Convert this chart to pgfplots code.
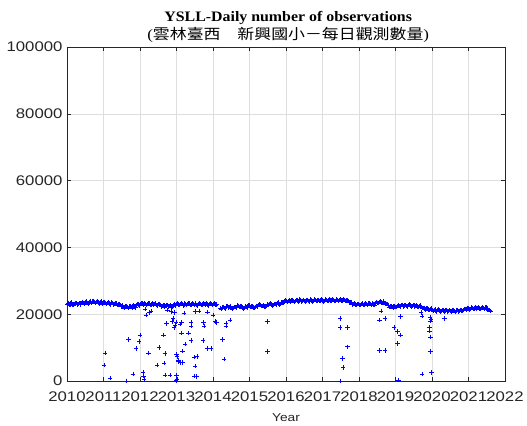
\documentclass[border=0pt]{standalone}
\usepackage{pgfplots}
\pgfplotsset{compat=1.18}
\usepackage{pgfplotstable}
\usepackage{fontspec}
\setmainfont{Liberation Sans}
\newfontfamily\tickfont{Liberation Sans}[FakeStretch=1.2]
\newfontfamily\titlefont{Liberation Serif}[FakeStretch=1.1]
\newfontfamily\parenfont{Liberation Serif}[FakeStretch=1.17]
\newfontfamily\cjkfont{Noto Sans CJK TC}[FakeStretch=1.17]
\definecolor{axgray}{rgb}{0.15,0.15,0.15}
\definecolor{gridgray}{rgb}{0.87,0.87,0.87}

\pgfplotstableread{
x y
2010.00 23100
2010.05 22800
2010.10 23200
2010.15 22900
2010.20 23100
2010.25 23300
2010.30 23000
2010.35 23200
2010.40 23400
2010.45 23300
2010.50 23500
2010.55 23400
2010.60 23700
2010.65 23600
2010.70 23800
2010.75 23600
2010.80 23700
2010.85 23500
2010.90 23600
2010.95 23400
2011.00 23500
2011.05 23300
2011.10 23400
2011.15 23200
2011.20 23400
2011.25 23300
2011.30 23100
2011.35 23200
2011.40 22900
2011.45 22700
2011.50 22400
2011.55 22200
2011.60 22300
2011.65 22100
2011.70 22300
2011.75 22200
2011.80 22400
2011.85 22300
2011.90 22600
2011.95 22900
2012.00 23000
2012.05 23200
2012.10 22900
2012.15 23100
2012.20 23000
2012.25 23200
2012.30 22900
2012.35 23100
2012.40 23000
2012.45 22800
2012.50 23000
2012.55 22700
2012.60 22500
2012.65 22600
2012.70 22400
2012.75 22700
2012.80 22500
2012.85 22300
2012.90 22600
2012.95 22800
2013.00 23000
2013.05 22900
2013.10 23100
2013.15 23000
2013.20 22800
2013.25 23100
2013.30 23000
2013.35 23200
2013.40 22900
2013.45 23100
2013.50 23000
2013.55 22800
2013.60 23000
2013.65 23100
2013.70 22900
2013.75 23000
2013.80 23100
2013.85 22900
2013.90 23000
2013.95 23100
2014.00 23000
2014.05 22900
2014.10 23000
2014.20 21800
2014.25 22000
2014.30 21800
2014.35 22200
2014.40 22400
2014.45 22200
2014.50 21900
2014.55 21800
2014.60 22100
2014.65 22400
2014.70 22500
2014.75 22300
2014.80 22000
2014.85 21900
2014.90 22200
2014.95 22500
2015.00 22600
2015.05 22300
2015.10 22000
2015.15 22100
2015.20 22400
2015.25 22700
2015.30 22800
2015.35 22500
2015.40 22300
2015.45 22500
2015.50 22800
2015.55 23000
2015.60 22900
2015.65 22700
2015.70 23000
2015.75 23300
2015.80 23200
2015.85 23000
2015.90 23700
2015.95 23800
2016.00 23900
2016.05 24000
2016.10 23900
2016.15 24100
2016.20 24000
2016.25 23900
2016.30 24100
2016.35 24000
2016.40 24200
2016.45 24000
2016.50 23900
2016.55 24100
2016.60 24000
2016.65 24200
2016.70 24100
2016.75 24000
2016.80 24200
2016.85 24100
2016.90 24000
2016.95 24200
2017.00 24100
2017.05 24000
2017.10 24200
2017.15 24100
2017.20 24300
2017.25 24100
2017.30 24200
2017.35 24000
2017.40 24300
2017.45 24200
2017.50 24300
2017.55 24100
2017.60 24300
2017.65 24100
2017.70 23900
2017.75 23600
2017.80 23300
2017.85 23000
2017.90 22900
2017.95 23100
2018.00 22800
2018.05 23000
2018.10 23100
2018.15 22900
2018.20 23000
2018.25 23200
2018.30 23000
2018.35 23100
2018.40 22900
2018.45 23200
2018.50 23400
2018.55 23600
2018.60 23500
2018.65 23700
2018.70 23400
2018.75 23100
2018.80 22600
2018.85 22300
2018.90 22100
2018.95 22300
2019.00 22200
2019.05 22500
2019.10 22400
2019.15 22700
2019.20 22500
2019.25 22600
2019.30 22400
2019.35 22700
2019.40 22600
2019.45 22400
2019.50 22600
2019.55 22500
2019.60 22300
2019.65 22500
2019.70 22200
2019.75 21800
2019.80 21600
2019.85 21700
2019.90 21400
2019.95 21600
2020.00 21300
2020.05 21200
2020.10 21000
2020.15 21200
2020.20 21100
2020.25 20900
2020.30 21100
2020.35 21000
2020.40 21200
2020.45 20900
2020.50 21000
2020.55 21100
2020.60 20900
2020.65 21000
2020.70 21200
2020.75 21000
2020.80 21100
2020.85 21300
2020.90 21500
2020.95 21600
2021.00 21700
2021.05 21600
2021.10 21800
2021.15 21700
2021.20 21900
2021.25 21800
2021.30 21700
2021.35 21900
2021.40 21800
2021.45 22000
2021.50 21700
2021.55 21300
2021.60 21000
}\bandtable

\pgfplotstableread{
x y
2010.025 23400
2010.075 22700
2010.125 23500
2010.175 22800
2010.225 23400
2010.275 22900
2010.325 23400
2010.375 22900
2010.425 23700
2010.475 23000
2010.525 23800
2010.575 23100
2010.625 24000
2010.675 23300
2010.725 24000
2010.775 23300
2010.825 23900
2010.875 23200
2010.925 23800
2010.975 23100
2011.025 23700
2011.075 23000
2011.125 23600
2011.175 22900
2011.225 23600
2011.275 22900
2011.325 23400
2011.375 22700
2011.425 23100
2011.475 22300
2011.525 22600
2011.575 21900
2011.625 22500
2011.675 21800
2011.725 22500
2011.775 21900
2011.825 22600
2011.875 22000
2011.925 23000
2011.975 22600
2012.025 23400
2012.075 22700
2012.125 23300
2012.175 22700
2012.225 23400
2012.275 22700
2012.325 23300
2012.375 22700
2012.425 23200
2012.475 22600
2012.525 23100
2012.575 22300
2012.625 22800
2012.675 22200
2012.725 22800
2012.775 22300
2012.825 22700
2012.875 22100
2012.925 22900
2012.975 22600
2013.025 23300
2013.075 22700
2013.125 23300
2013.175 22600
2013.225 23200
2013.275 22700
2013.325 23400
2013.375 22700
2013.425 23300
2013.475 22700
2013.525 23200
2013.575 22600
2013.625 23300
2013.675 22700
2013.725 23200
2013.775 22700
2013.825 23300
2013.875 22600
2013.925 23300
2013.975 22700
2014.025 23200
2014.075 22700
2014.225 21600
2014.275 22200
2014.325 21700
2014.375 22500
2014.425 22000
2014.475 22300
2014.525 21600
2014.575 22200
2014.625 22000
2014.675 22700
2014.725 22200
2014.775 22400
2014.825 21700
2014.875 22300
2014.925 22000
2014.975 22800
2015.025 22200
2015.075 22400
2015.125 21800
2015.175 22500
2015.225 22300
2015.275 23000
2015.325 22400
2015.375 22600
2015.425 22100
2015.475 22900
2015.525 22700
2015.575 23200
2015.625 22600
2015.675 23100
2015.725 22900
2015.775 23500
2015.825 22900
2015.875 23500
2015.925 23500
2015.975 24100
2016.025 23700
2016.075 24300
2016.125 23800
2016.175 24300
2016.225 23700
2016.275 24300
2016.325 23800
2016.375 24400
2016.425 23800
2016.475 24300
2016.525 23800
2016.575 24300
2016.625 23800
2016.675 24400
2016.725 23800
2016.775 24400
2016.825 23900
2016.875 24300
2016.925 23900
2016.975 24400
2017.025 23800
2017.075 24400
2017.125 23900
2017.175 24500
2017.225 23900
2017.275 24400
2017.325 23900
2017.375 24500
2017.425 24000
2017.475 24500
2017.525 24000
2017.575 24500
2017.625 24000
2017.675 24100
2017.725 23500
2017.775 23600
2017.825 22900
2017.875 23200
2017.925 22700
2017.975 23100
2018.025 22700
2018.075 23300
2018.125 22800
2018.175 23200
2018.225 22800
2018.275 23400
2018.325 22800
2018.375 23300
2018.425 22800
2018.475 23600
2018.525 23300
2018.575 23800
2018.625 23400
2018.675 23800
2018.725 23000
2018.775 23000
2018.825 22200
2018.875 22400
2018.925 21900
2018.975 22500
2019.025 22100
2019.075 22700
2019.125 22300
2019.175 22800
2019.225 22300
2019.275 22800
2019.325 22300
2019.375 22900
2019.425 22300
2019.475 22800
2019.525 22300
2019.575 22600
2019.625 22200
2019.675 22600
2019.725 21800
2019.775 21900
2019.825 21400
2019.875 21800
2019.925 21300
2019.975 21700
2020.025 21000
2020.075 21400
2020.125 20800
2020.175 21400
2020.225 20800
2020.275 21200
2020.325 20800
2020.375 21300
2020.425 20800
2020.475 21200
2020.525 20800
2020.575 21300
2020.625 20700
2020.675 21300
2020.725 20800
2020.775 21300
2020.825 20900
2020.875 21600
2020.925 21300
2020.975 21900
2021.025 21400
2021.075 22000
2021.125 21500
2021.175 22100
2021.225 21600
2021.275 22000
2021.325 21500
2021.375 22100
2021.425 21600
2021.475 22100
2021.525 21400
2021.575 21200
}\bandtableb

\pgfplotstableread{
x y
2011.04 8470
2011.01 4700
2011.18 900
2011.68 12480
2011.63 0
2011.80 2100
2012.00 13770
2011.98 11780
2011.89 9780
2012.10 1500
2012.11 600
2012.09 2600
2012.23 8470
2012.14 21470
2012.16 19760
2012.26 20500
2012.30 21000
2012.47 4790
2012.52 10080
2012.64 13770
2012.66 5300
2012.68 8290
2012.68 1800
2012.82 1800
2012.73 17270
2012.87 17760
2012.91 18770
2012.93 16000
2012.96 16800
2012.98 17600
2012.95 20500
2012.85 20800
2012.75 21200
2013.00 8000
2013.02 7300
2013.04 6200
2013.06 5800
2013.09 5500
2013.00 1800
2013.01 600
2012.98 200
2013.10 17000
2013.14 17500
2013.14 14280
2013.16 8900
2013.16 5500
2013.24 11000
2013.33 14280
2013.39 17500
2013.40 16500
2013.39 12080
2013.48 7100
2013.49 1500
2013.51 4490
2013.55 1300
2013.57 7290
2013.72 12080
2013.74 17500
2013.75 16500
2013.83 9780
2013.94 9780
2014.00 19760
2014.05 17760
2014.10 17500
2014.26 12480
2014.30 6500
2014.35 16500
2014.36 17200
2014.47 18260
2015.49 17760
2015.49 8780
2013.20 20300
2013.50 20800
2013.62 21000
2013.85 20600
2017.48 18770
2017.48 16070
2017.68 16070
2017.68 10270
2017.55 6790
2017.57 4000
2017.48 0
2018.56 18260
2018.71 18770
2018.56 9080
2018.71 9080
2018.96 16070
2019.05 14770
2019.14 13770
2019.05 11280
2019.14 19260
2019.08 300
2019.72 19460
2019.95 19000
2019.97 18500
2019.96 18000
2019.93 16000
2019.93 15000
2019.96 13260
2019.96 8780
2019.72 2100
2019.99 2500
2020.34 18770
2018.60 21000
2019.70 20500
}\outliertable

\begin{document}
\begin{tikzpicture}
\path[use as bounding box] (-67bp,-45bp) rectangle (460bp,381bp);
\begin{axis}[
  at={(0,0)}, anchor=south west,
  scale only axis,
  width=438bp, height=334bp,
  xmin=2010, xmax=2022,
  ymin=0, ymax=100000,
  xtick={2010,2011,...,2022},
  ytick={0,20000,40000,60000,80000,100000},
  scaled ticks=false,
  /pgf/number format/.cd, fixed, precision=0, 1000 sep={}, assume math mode=true,
  /pgfplots/.cd,
  tick label style={font=\tickfont\fontsize{14}{14}\selectfont, text=axgray},
  xticklabel style={yshift=-7bp},
  yticklabel style={xshift=-1bp},
  tick align=inside,
  major tick length=4.5bp,
  minor tick num=0,
  tick style={axgray, line width=0.5pt},
  axis line style={axgray, line width=0.5pt},
  grid=major,
  major grid style={gridgray, line width=0.5pt},
  xlabel={Year},
  xlabel style={font=\tickfont\fontsize{11.5}{12}\selectfont, text=axgray, at={(axis description cs:0.5,0)}, anchor=base, yshift=-40bp},
  clip=false,
]
\addplot[only marks, mark=+, mark size=2.2pt, blue, line width=0.45pt] table[x=x,y=y] {\bandtable};
\addplot[only marks, mark=+, mark size=2.2pt, blue, line width=0.45pt] table[x=x,y=y] {\bandtableb};
\addplot[only marks, mark=+, mark size=2.2pt, blue, line width=0.4pt] table[x=x,y=y] {\outliertable};
\node[anchor=base, font=\titlefont\bfseries\fontsize{14.5}{15}\selectfont] at (rel axis cs:0.505,1) [yshift=25bp] {YSLL-Daily number of observations};
\node[anchor=base, font=\fontsize{14.5}{15}\selectfont] at (rel axis cs:0.505,1) [yshift=7bp] {\parenfont(\cjkfont 雲林臺西　新興國小－每日觀測數量\parenfont)};
\end{axis}
\end{tikzpicture}
\end{document}
